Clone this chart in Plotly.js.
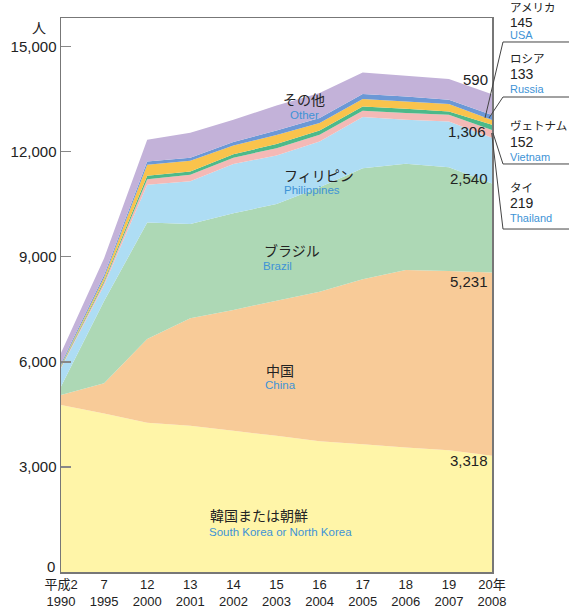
<!DOCTYPE html>
<html>
<head>
<meta charset="utf-8">
<script src="https://cdn.plot.ly/plotly-3.0.1.min.js"></script>
<style>
html,body{margin:0;padding:0;background:#fff;}
#chart{width:569px;height:608px;}
</style>
</head>
<body>
<div id="chart"></div>
<script>
// ---- data ----
const years = ['1990','1995','2000','2001','2002','2003','2004','2005','2006','2007','2008'];
const heisei = ['平成2','7','12','13','14','15','16','17','18','19','20年'];
const korea = [4763, 4524, 4258, 4172, 4030, 3886, 3734, 3649, 3553, 3477, 3318];
const china = [290, 860, 2391, 3068, 3447, 3857, 4266, 4705, 5067, 5114, 5231];
const brazil = [240, 2350, 3322, 2694, 2763, 2757, 2980, 3170, 3029, 2963, 2540];
const philippines = [520, 450, 1078, 1219, 1400, 1385, 1306, 1459, 1257, 1303, 1306];
const thailand = [35, 80, 162, 181, 185, 210, 191, 180, 191, 192, 219];
const vietnam = [30, 50, 95, 95, 95, 120, 123, 123, 123, 94, 152];
const russia = [25, 90, 314, 306, 250, 255, 211, 211, 209, 211, 133];
const usa = [50, 70, 94, 85, 100, 130, 143, 143, 142, 123, 145];
const other = [300, 480, 620, 713, 635, 710, 714, 617, 592, 591, 590];
const yTicks = [0, 3000, 6000, 9000, 12000, 15000];

const xs = years.map((_, i) => i);
const last = years.length - 1;
const fmt = v => v.toLocaleString('en-US');

const series = [
  {name: '韓国または朝鮮', y: korea, color: '#FFF5A8'},
  {name: '中国', y: china, color: '#F8CB98'},
  {name: 'ブラジル', y: brazil, color: '#ADD8B5'},
  {name: 'フィリピン', y: philippines, color: '#AEDDF4'},
  {name: 'タイ', y: thailand, color: '#F4B9B6'},
  {name: 'ヴェトナム', y: vietnam, color: '#4DB98A'},
  {name: 'ロシア', y: russia, color: '#F9C34C'},
  {name: 'アメリカ', y: usa, color: '#6B98D6'},
  {name: 'その他', y: other, color: '#C3B2D9'}
];

const traces = series.map(s => ({
  type: 'scatter', x: xs, y: s.y, name: s.name,
  stackgroup: 'one', mode: 'none',
  fillcolor: s.color, line: {width: 0},
  hoverinfo: 'skip'
}));

const FONT = 'Liberation Sans, Arial, Noto Sans CJK JP, sans-serif';
const JP = 'Noto Sans CJK JP, sans-serif';
const BLUE = '#3E93D6';
const DARK = '#222';

function jp(text, x, y, anchor, size) {
  return {text, x, y, xref: 'x', yref: 'y', showarrow: false, xanchor: anchor || 'left',
    yanchor: 'middle', font: {family: JP, size: size || 14, color: DARK}};
}
function en(text, x, y, anchor) {
  return {text, x, y, xref: 'x', yref: 'y', showarrow: false, xanchor: anchor || 'left',
    yanchor: 'middle', font: {family: FONT, size: 11.5, color: BLUE}};
}
function num(text, x, y) {
  return {text, x, y, xref: 'x', yref: 'y', showarrow: false, xanchor: 'right',
    yanchor: 'middle', font: {family: FONT, size: 15, color: DARK}};
}
function side(text, y, kind, size) {
  const f = kind === 'jp' ? {family: JP, size: size || 11.5, color: DARK}
          : kind === 'en' ? {family: FONT, size: size || 11, color: BLUE}
          : {family: FONT, size: size || 14, color: DARK};
  return {text, x: 1.04, y, xref: 'paper', yref: 'paper', showarrow: false,
    xanchor: 'left', yanchor: 'middle', font: f, borderpad: 0};
}

const annotations = [
  {text: '人', x: -0.05, y: 0.984, xref: 'paper', yref: 'paper', showarrow: false,
   xanchor: 'center', yanchor: 'middle', font: {family: JP, size: 14, color: DARK}, borderpad: 0},
  {text: fmt(yTicks[0]), x: -0.012, y: 0.0105, xref: 'paper', yref: 'paper', showarrow: false,
   xanchor: 'right', yanchor: 'middle', font: {family: FONT, size: 15, color: DARK}, borderpad: 0},
  jp('その他', 5.64, 13510, 'center'), en('Other', 5.66, 13040, 'center'),
  jp('フィリピン', 5.13, 11320), en('Philippines', 5.13, 10890),
  jp('ブラジル', 4.66, 9180), en('Brazil', 4.64, 8725),
  jp('中国', 4.71, 5757), en('China', 4.69, 5328),
  jp('韓国または朝鮮', 3.42, 1620), en('South Korea or North Korea', 3.39, 1133),
  num(fmt(other[last]), 9.95, 14060),
  num(fmt(philippines[last]), 9.9, 12580),
  num(fmt(brazil[last]), 9.95, 11240),
  num(fmt(china[last]), 9.95, 8300),
  num(fmt(korea[last]), 9.95, 3190),
  side('アメリカ', 1.0199, 'jp'), side(fmt(usa[last]), 0.9925, 'num', 13.5), side('USA', 0.9702, 'en'),
  side('ロシア', 0.9280, 'jp'), side(fmt(russia[last]), 0.8985, 'num'), side('Russia', 0.8718, 'en'),
  side('ヴェトナム', 0.8060, 'jp'), side(fmt(vietnam[last]), 0.7762, 'num'), side('Vietnam', 0.7491, 'en'),
  side('タイ', 0.6950, 'jp'), side(fmt(thailand[last]), 0.6655, 'num'), side('Thailand', 0.6390, 'en')
];

const LC = '#444';
function seg(x0, y0, x1, y1) {
  return {type: 'line', xref: 'paper', yref: 'paper', x0, y0, x1, y1,
    line: {color: LC, width: 1}, layer: 'above'};
}
const shapes = [
  seg(1.0255, 0.9567, 1.2, 0.9567),
  seg(1.0255, 0.8574, 1.2, 0.8574),
  seg(1.0255, 0.7365, 1.2, 0.7365),
  seg(1.0255, 0.6191, 1.2, 0.6191),
  seg(1.0255, 0.9567, 0.9838, 0.8195),
  seg(1.0255, 0.8574, 0.993, 0.8195),
  seg(1.0255, 0.7365, 1.0023, 0.7924),
  seg(1.0255, 0.6191, 0.9993, 0.7924)
];

const layout = {
  width: 569, height: 608,
  margin: {l: 61, r: 77, t: 18, b: 36, pad: 0},
  paper_bgcolor: '#fff', plot_bgcolor: '#fff',
  showlegend: false,
  font: {family: FONT, color: DARK},
  xaxis: {
    range: [0, 10], tickvals: xs,
    ticktext: years.map((y, i) => heisei[i] + '<br>' + y),
    showgrid: false, zeroline: false, ticks: '',
    showline: true, mirror: true, linecolor: '#777', linewidth: 1.5,
    tickfont: {family: FONT, size: 13, color: DARK}, fixedrange: true
  },
  yaxis: {
    range: [0, 15810], tickvals: yTicks, ticktext: yTicks.map((v, i) => i === 0 ? '' : fmt(v)),
    showgrid: false, zeroline: false,
    ticks: 'inside', ticklen: 10, tickcolor: '#888', tickwidth: 1.5,
    showline: true, mirror: true, linecolor: '#777', linewidth: 1.5,
    tickfont: {family: FONT, size: 15, color: DARK}, fixedrange: true
  },
  annotations, shapes
};

Plotly.newPlot('chart', traces, layout, {displayModeBar: false, staticPlot: true});
</script>
</body>
</html>
